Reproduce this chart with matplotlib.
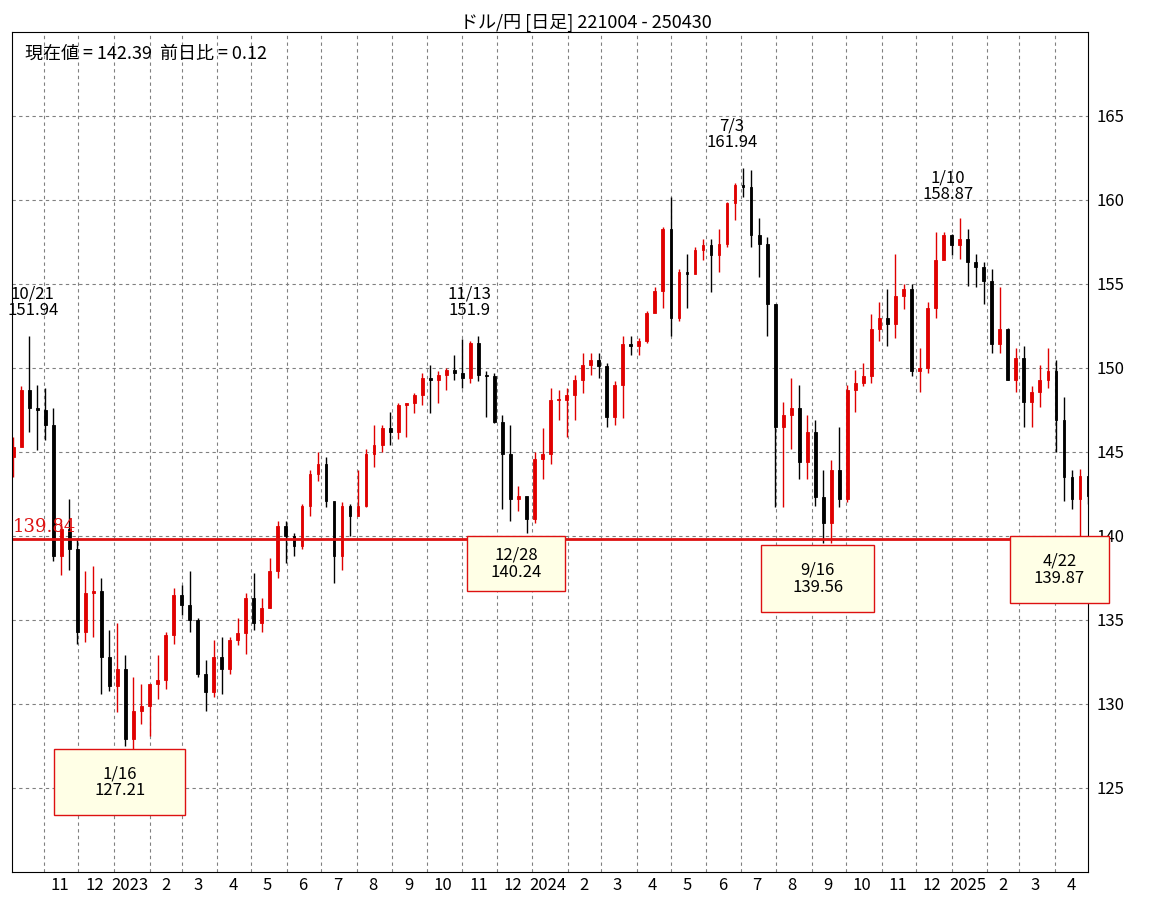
import numpy as np
import pandas as pd
import matplotlib
matplotlib.use("Agg")
import matplotlib.pyplot as plt
import matplotlib.dates as mdates
from matplotlib.patches import Rectangle

plt.rcParams["font.family"] = ["Noto Sans CJK JP", "DejaVu Sans"]

# weekly candles (week starting Monday)
first_week = "2022-10-03"
first_open = 144.7
close = [145.3, 148.7, 147.6, 147.5, 146.6, 138.8, 140.4, 139.2, 134.3, 136.6, 136.7, 132.8, 131.1,
         132.1, 127.9, 129.6, 129.9, 131.2, 131.4, 134.1, 136.5, 135.9, 135.0, 131.8, 130.7, 132.8,
         132.1, 133.8, 134.2, 136.3, 134.8, 135.7, 137.9, 140.6, 140.0, 139.4, 141.8, 143.7, 144.3,
         142.1, 138.8, 141.8, 141.2, 141.8, 144.9, 145.4, 146.4, 146.2, 147.8, 147.9, 148.4, 149.4,
         149.3, 149.6, 149.9, 149.7, 149.4, 151.5, 149.6, 149.5, 146.8, 144.9, 142.2, 142.4, 141.0,
         144.6, 144.9, 148.1, 148.1, 148.4, 149.3, 150.2, 150.5, 150.1, 147.1, 149.0, 151.4, 151.3,
         151.6, 153.3, 154.6, 158.3, 153.0, 155.7, 155.6, 157.0, 157.3, 156.7, 157.4, 159.8, 160.9,
         160.8, 157.9, 157.4, 153.8, 146.5, 147.2, 147.6, 144.4, 146.2, 142.3, 140.8, 143.9, 142.2,
         148.7, 149.1, 149.5, 152.3, 153.0, 152.6, 154.3, 154.7, 149.8, 150.0, 153.6, 156.4, 157.9,
         157.3,
         157.7, 156.3, 156.0, 155.2, 151.4, 152.3, 149.3, 150.6, 148.0, 148.6, 149.3, 149.8, 146.9,
         143.5, 142.2, 143.6, 142.4]
high = [145.9, 148.9, 151.9, 149.0, 148.8, 147.6, 140.8, 142.2, 139.9, 137.9, 138.2, 137.5, 134.4,
        134.8, 132.9, 131.6, 131.2, 131.2, 132.9, 134.3, 136.9, 137.1, 137.9, 135.1, 132.6, 133.8,
        134.0, 134.0, 135.1, 136.6, 137.8, 136.3, 138.7, 140.9, 140.9, 140.2, 141.9, 143.9, 145.0,
        144.7, 142.0, 142.0, 141.9, 143.9, 145.2, 146.6, 146.6, 147.4, 147.9, 147.9, 148.5, 149.7,
        150.2, 149.8, 150.0, 150.8, 151.7, 151.6, 151.9, 149.8, 149.7, 147.2, 146.6, 143.0, 142.2,
        145.0, 146.4, 148.8, 148.7, 148.8, 149.6, 150.9, 150.9, 150.9, 150.3, 149.2, 151.9, 151.9,
        151.8, 153.4, 154.8, 158.4, 160.2, 155.9, 156.8, 157.2, 157.7, 157.7, 158.3, 159.9, 161.0,
        161.9, 161.8, 158.9, 157.8, 153.8, 148.0, 149.4, 149.0, 147.2, 146.9, 143.9, 144.5, 146.5,
        149.0, 149.9, 150.3, 153.2, 153.9, 154.7, 156.8, 155.0, 155.0, 151.2, 153.9, 158.1, 158.1,
        158.0,
        158.9, 158.3, 156.8, 156.3, 155.9, 154.8, 152.4, 151.2, 151.3, 148.9, 150.2, 151.2, 150.5,
        148.3, 143.9, 144.0, 143.6]
low = [143.5, 145.4, 146.2, 145.1, 145.7, 138.5, 137.7, 138.0, 133.6, 133.7, 134.0, 130.6, 130.8,
       129.5, 127.5, 127.2, 128.8, 128.1, 130.3, 130.9, 133.6, 135.3, 134.3, 131.6, 129.6, 130.4,
       130.6, 131.8, 133.5, 133.0, 134.4, 134.3, 135.7, 137.5, 138.4, 138.8, 139.2, 141.2, 143.3,
       141.7, 137.2, 138.0, 140.0, 141.5, 141.7, 144.1, 145.0, 145.4, 145.8, 145.9, 147.3, 147.8,
       147.3, 147.9, 148.7, 149.3, 148.8, 149.1, 149.2, 147.1, 146.7, 141.6, 140.9, 141.5, 140.2,
       140.8, 143.4, 144.3, 146.9, 145.9, 146.9, 148.5, 149.6, 149.4, 146.5, 146.6, 147.0, 150.8,
       150.8, 151.5, 153.6, 153.6, 151.9, 152.8, 153.6, 155.9, 156.4, 154.5, 155.7, 157.2, 158.8,
       160.2, 157.2, 155.4, 151.9, 141.7, 141.7, 145.2, 143.4, 143.4, 141.8, 139.6, 139.6, 141.7,
       142.0, 147.4, 148.9, 149.1, 151.6, 151.3, 151.8, 153.5, 149.5, 148.6, 149.7, 153.0, 156.7,
       156.7,
       156.5, 154.9, 154.8, 153.8, 150.9, 150.9, 149.3, 148.6, 146.5, 146.5, 147.7, 148.8, 145.0,
       142.1, 141.6, 139.9, 141.9]

support = 139.84
peaks = [("2022-10-22", 152.9, "10/21\n151.94"), ("2023-11-07", 152.9, "11/13\n151.9"),
         ("2024-06-23", 162.9, "7/3\n161.94"), ("2024-12-29", 159.8, "1/10\n158.87")]
# trough boxes: centre date, box top, width (days), height, label
troughs = [("2023-01-06", 127.3, 114, 3.9, "1/16\n127.21"),
           ("2023-12-18", 140.0, 86, 3.3, "12/28\n140.24"),
           ("2024-09-06", 139.45, 98, 4.0, "9/16\n139.56"),
           ("2025-04-05", 140.0, 87, 4.0, "4/22\n139.87")]

weeks = pd.date_range(first_week, periods=len(close), freq="W-MON") + pd.Timedelta(days=2)
opens = [first_open] + close[:-1]
x = mdates.date2num(weeks)

fig = plt.figure(figsize=(11.71, 9.02), dpi=100)
ax = fig.add_axes([12 / 1171, 30 / 902, 1076 / 1171, 840 / 902])

for xi, o, h, l, c in zip(x, opens, high, low, close):
    col = "#e00000" if c >= o else "black"
    ax.vlines(xi, l, h, color=col, lw=1)
    ax.add_patch(Rectangle((xi - 1.2, min(o, c)), 2.4, max(abs(c - o), 0.05),
                           facecolor=col, edgecolor=col, lw=0.6))

ax.axhline(support, color="#dd1111", lw=2)
ax.text(mdates.date2num(pd.Timestamp("2022-10-05")), support + 0.15, f"{support:.2f}",
        color="#dd1111", fontsize=13, family="DejaVu Serif", va="bottom")

for d, y, s in peaks:
    ax.text(mdates.date2num(pd.Timestamp(d)), y, s, ha="center", va="bottom", fontsize=12,
            linespacing=1.0)
for d, top, w, hgt, s in troughs:
    cx = mdates.date2num(pd.Timestamp(d))
    ax.add_patch(Rectangle((cx - w / 2, top - hgt), w, hgt, facecolor="#ffffe6",
                           edgecolor="#dd1111", lw=1, zorder=3, clip_on=False))
    ax.text(cx, top - hgt / 2, s, ha="center", va="center", fontsize=12, zorder=4,
            linespacing=1.0)

start, end = pd.Timestamp("2022-10-04"), pd.Timestamp("2025-04-30")
ax.set_xlim(mdates.date2num(start), mdates.date2num(end))
ax.set_ylim(120, 170)

month_starts = pd.date_range("2022-11-01", "2025-04-01", freq="MS")
ax.set_xticks(mdates.date2num(month_starts), minor=True)
mids = month_starts + pd.Timedelta(days=14)
ax.set_xticks(mdates.date2num(mids))
ax.set_xticklabels([str(m.year) if m.month == 1 else str(m.month) for m in month_starts],
                   fontsize=12)
ax.tick_params(axis="x", which="both", length=0)
ax.grid(True, which="minor", axis="x", color="gray", ls=(0, (3, 3)), lw=0.8)

ax.set_yticks([125, 130, 135, 140, 145, 150, 155, 160, 165])
ax.yaxis.tick_right()
ax.tick_params(axis="y", length=0, labelsize=12, pad=6)
ax.grid(True, which="major", axis="y", color="gray", ls=(0, (3, 3)), lw=0.8)
ax.set_axisbelow(True)

ax.text(0.012, 0.985, "現在値 = 142.39  前日比 = 0.12", transform=ax.transAxes,
        fontsize=13, va="top")
fig.text(0.5, 0.985, "ドル/円 [日足] 221004 - 250430", ha="center", va="top", fontsize=13)

fig.savefig("out.png", dpi=100)
